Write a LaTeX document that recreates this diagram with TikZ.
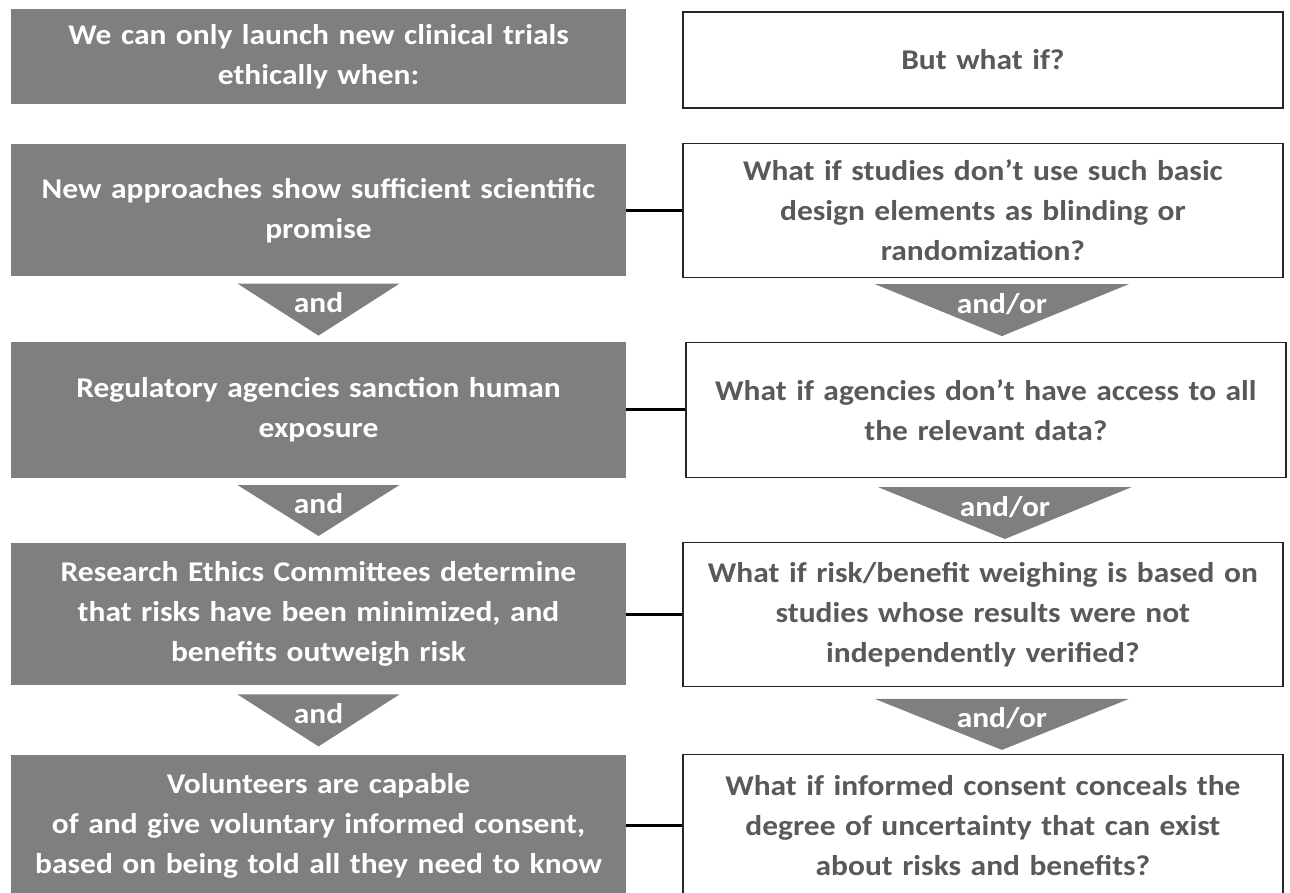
\documentclass[tikz,border=0pt]{standalone}
\usepackage{fontspec}
\setmainfont{Carlito}[FakeStretch=1.1]
\usetikzlibrary{positioning}

\definecolor{boxgray}{HTML}{7F7F7F}
\definecolor{askgray}{HTML}{595959}

\begin{document}
\begin{tikzpicture}[
        x=1pt, y=1pt,
        node distance=65pt and 56pt,
        cond/.style={rectangle, fill=boxgray, text=white, minimum width=615pt, text width=605pt, align=center, inner sep=0pt, font=\bfseries\fontsize{28.6}{40}\selectfont},
        ask/.style={rectangle, draw=black!85, line width=1.4pt, fill=white, text=askgray, minimum width=600pt, text width=590pt, align=center, inner sep=0pt, font=\bfseries\fontsize{28.6}{40}\selectfont},
        link/.style={-, line width=3pt, black},
        tri/.style={fill=boxgray},
        joiner/.style={text=white, inner sep=0pt, font=\bfseries\fontsize{28.6}{34}\selectfont}
    ]
    \useasboundingbox (0,0) rectangle (1290,-892);

    % Left column: conditions
    \node[cond, minimum height=95pt] (head) at (318.5,-56.5) {We can only launch new clinical trials\\ethically when:};
    \node[cond, minimum height=132pt, below=40pt of head] (promise) {New approaches show sufficient scientific\\promise};
    \node[cond, minimum height=136pt, below=of promise] (agency) {Regulatory agencies sanction human\\exposure};
    \node[cond, minimum height=142pt, below=of agency] (ethics) {Research Ethics Committees determine\\that risks have been minimized, and\\benefits outweigh risk};
    \node[cond, minimum height=142pt, below=69pt of ethics] (consent) {Volunteers are capable\\of and give voluntary informed consent,\\based on being told all they need to know};

    % Right column: questions
    \node[ask, minimum height=96pt, right=56pt of head, yshift=-3.5pt] (whatif) {But what if?};
    \node[ask, minimum height=134pt, right=of promise] (qdesign) {What if studies don’t use such basic\\design elements as blinding or\\randomization?};
    \node[ask, minimum height=135pt, right=59pt of agency] (qdata) {What if agencies don’t have access to all\\the relevant data?};
    \node[ask, minimum height=144pt, right=of ethics] (qverify) {What if risk/benefit weighing is based on\\studies whose results were not\\independently verified?};
    \node[ask, minimum height=142pt, right=of consent] (qconceal) {What if informed consent conceals the\\degree of uncertainty that can exist\\about risks and benefits?};

    % Links
    \draw[link] (promise) -- (qdesign);
    \draw[link] (agency) -- (qdata);
    \draw[link] (ethics) -- (qverify);
    \draw[link] (consent) -- (qconceal);

    % Left triangles
    \fill[tri] ([xshift=-81pt,yshift=-7pt]promise.south) -- ([xshift=81pt,yshift=-7pt]promise.south) -- ([yshift=-59pt]promise.south) -- cycle;
    \node[joiner] (and1) at ([yshift=-26pt]promise.south) {and};
    \fill[tri] ([xshift=-81pt,yshift=-7pt]agency.south) -- ([xshift=81pt,yshift=-7pt]agency.south) -- ([yshift=-58pt]agency.south) -- cycle;
    \node[joiner] (and2) at ([yshift=-26pt]agency.south) {and};
    \fill[tri] ([xshift=-81pt,yshift=-9pt]ethics.south) -- ([xshift=81pt,yshift=-9pt]ethics.south) -- ([yshift=-61pt]ethics.south) -- cycle;
    \node[joiner] (and3) at ([yshift=-28pt]ethics.south) {and};

    % Right triangles
    \fill[tri] ([xshift=-108pt,yshift=-6pt]qdesign.south) -- ([xshift=146pt,yshift=-6pt]qdesign.south) -- ([xshift=19pt,yshift=-58pt]qdesign.south) -- cycle;
    \node[joiner] (andor1) at ([xshift=19pt,yshift=-26pt]qdesign.south) {and/or};
    \fill[tri] ([xshift=-108pt,yshift=-9pt]qdata.south) -- ([xshift=146pt,yshift=-9pt]qdata.south) -- ([xshift=19pt,yshift=-61pt]qdata.south) -- cycle;
    \node[joiner] (andor2) at ([xshift=19pt,yshift=-29pt]qdata.south) {and/or};
    \fill[tri] ([xshift=-108pt,yshift=-12pt]qverify.south) -- ([xshift=146pt,yshift=-12pt]qverify.south) -- ([xshift=19pt,yshift=-63pt]qverify.south) -- cycle;
    \node[joiner] (andor3) at ([xshift=19pt,yshift=-31pt]qverify.south) {and/or};

\end{tikzpicture}
\end{document}
